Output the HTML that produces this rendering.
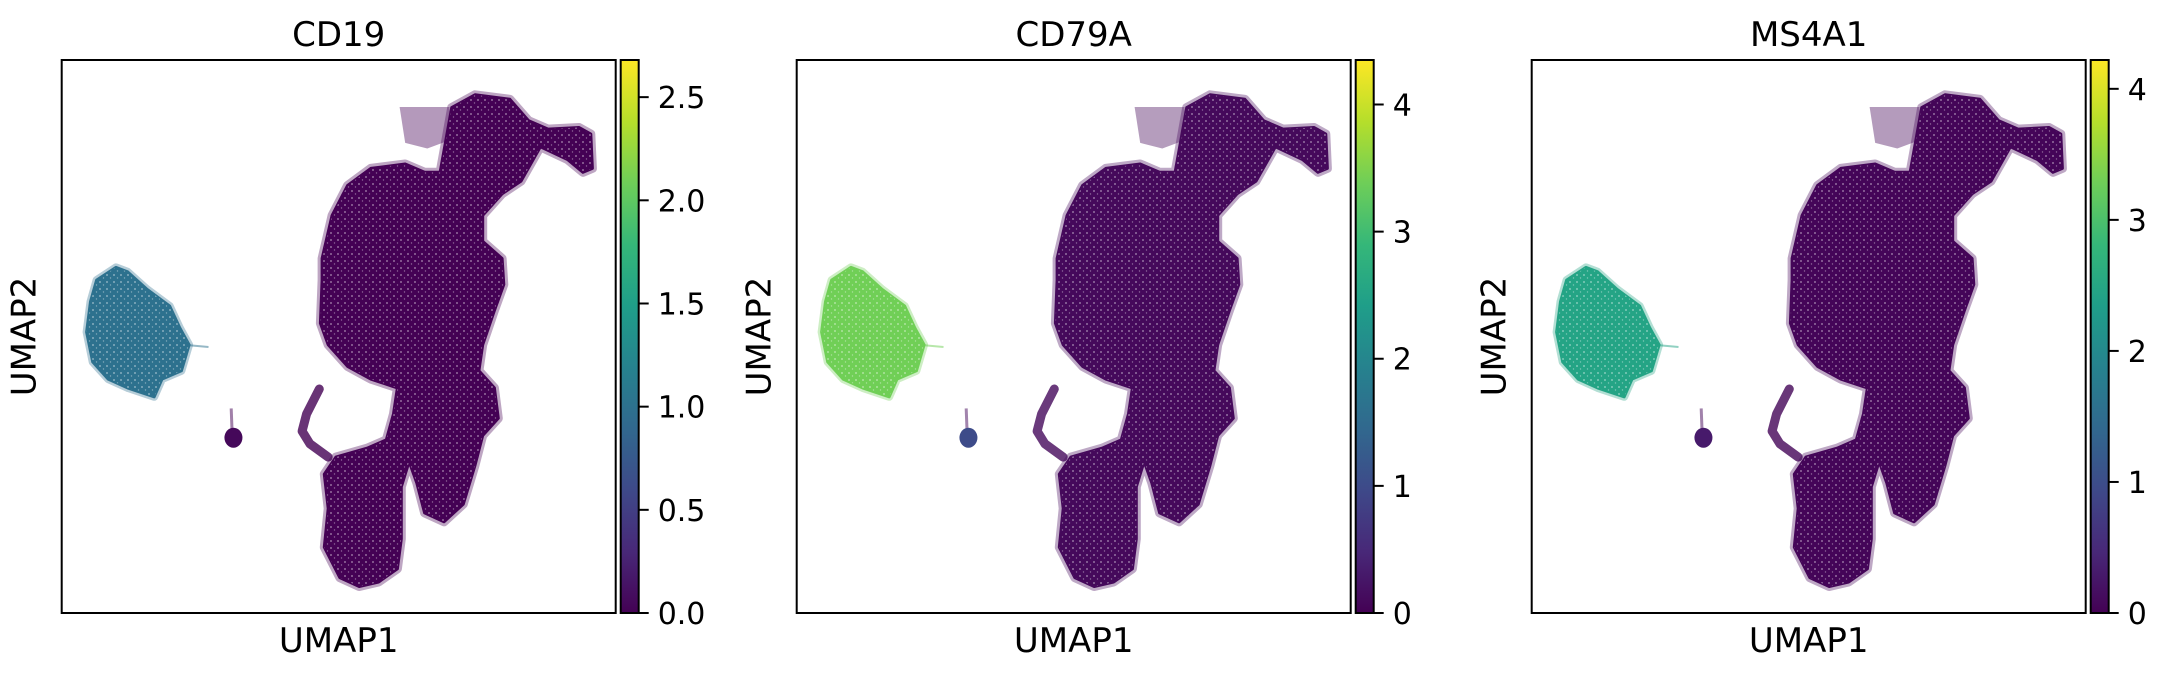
<!DOCTYPE html>
<html><head><meta charset="utf-8"><style>
html,body{margin:0;padding:0;background:#fff;}
svg{display:block;font-family:"DejaVu Sans","Liberation Sans",sans-serif;}
</style></head><body>
<svg id="chart" width="2167" height="676" viewBox="0 0 2167 676" xmlns="http://www.w3.org/2000/svg">
<defs>
<linearGradient id="viridis" x1="0" y1="1" x2="0" y2="0">
<stop offset="0" stop-color="#440154"/><stop offset="0.111" stop-color="#482878"/><stop offset="0.222" stop-color="#3e4989"/><stop offset="0.333" stop-color="#31688e"/><stop offset="0.444" stop-color="#26828e"/><stop offset="0.555" stop-color="#1f9e89"/><stop offset="0.666" stop-color="#35b779"/><stop offset="0.777" stop-color="#6ece58"/><stop offset="0.888" stop-color="#b5de2b"/><stop offset="1" stop-color="#fde725"/>
</linearGradient>
<pattern id="speckle" width="7" height="7" patternUnits="userSpaceOnUse">
<circle cx="2" cy="2" r="0.9" fill="#fff" opacity="0.55"/><circle cx="5.5" cy="5" r="0.7" fill="#fff" opacity="0.4"/>
</pattern>
</defs>
</svg>
<script>
// Genes shown and their colorbar maxima / ticks
const genes = ["CD19", "CD79A", "MS4A1"];
const colorMax = [2.68, 4.35, 4.22];
const ticksCD19 = [0, 0.5, 1.0, 1.5, 2.0, 2.5];
const tickLabelsCD19 = ["0.0", "0.5", "1.0", "1.5", "2.0", "2.5"];
const ticksInt = [0, 1, 2, 3, 4];
const tickLabelsInt = ["0", "1", "2", "3", "4"];
// Cluster outlines in UMAP units (0-100 range on both axes)
const mainCluster = [[47.0,64.1],[48.8,71.9],[51.6,77.3],[55.8,80.4],[62.0,81.2],[65.5,79.7],[68.3,79.7],[69.0,83.6],[70.4,91.4],[74.6,93.7],[80.9,92.9],[84.3,89.0],[87.8,87.5],[93.4,87.8],[95.5,86.6],[95.8,80.4],[94.1,79.7],[91.3,82.0],[86.4,84.3],[82.9,78.1],[79.5,75.8],[76.0,71.9],[76.0,67.2],[79.5,64.1],[79.8,59.4],[78.1,54.7],[76.0,48.5],[75.3,43.8],[78.1,40.7],[78.8,35.2],[76.0,32.1],[74.6,26.7],[72.5,19.7],[69.0,16.5],[65.5,18.1],[64.1,23.5],[62.7,27.4],[61.3,22.8],[61.3,13.4],[60.6,8.0],[57.2,5.6],[53.7,4.8],[50.2,6.4],[47.4,11.9],[48.1,18.9],[47.4,25.1],[49.5,28.2],[55.1,29.8],[58.6,31.3],[59.9,36.0],[60.6,40.7],[55.8,42.3],[51.6,44.6],[48.1,48.5],[46.7,52.4],[47.0,60.2]];
const topLeftSparse = [[61,91.5],[70,91.5],[70,85.5],[66,84],[62,85]];
const hookCluster = [[46.5,40.5],[44.2,36.0],[43.4,32.9],[44.8,30.6],[48.1,28.2]];
const bCluster = [[6.3,60.2],[9.8,62.5],[11.9,61.7],[15.3,58.6],[19.5,55.5],[21.3,51.6],[23.0,48.5],[21.6,43.8],[18.1,42.3],[16.7,39.1],[11.9,40.7],[8.4,42.3],[5.6,45.4],[4.5,50.8],[5.2,56.3]];
const bTrail = [[22,48.5],[26.5,48.1]];
const tinyCenter = [31.0, 31.7];
const tinyTrail = [[30.8,31.7],[30.6,37.0]];
// Mean expression per cluster per gene
const bExpr = [1.0, 3.4, 2.45];
const tinyExpr = [0.05, 1.0, 0.3];
const mainExpr = [0, 0.1, 0.05];

const vir = ["#440154","#482878","#3e4989","#31688e","#26828e","#1f9e89","#35b779","#6ece58","#b5de2b","#fde725"];
function viridis(t){t=Math.max(0,Math.min(1,t));const p=t*(vir.length-1),i=Math.min(Math.floor(p),vir.length-2),f=p-i;
const a=vir[i],b=vir[i+1];const c=k=>Math.round(parseInt(a.substr(k,2),16)*(1-f)+parseInt(b.substr(k,2),16)*f);
return "rgb("+c(1)+","+c(3)+","+c(5)+")";}

const NS="http://www.w3.org/2000/svg";
const svg=document.getElementById("chart");
function mk(tag,attrs,parent){const e=document.createElementNS(NS,tag);for(const k in attrs)e.setAttribute(k,attrs[k]);(parent||svg).appendChild(e);return e;}

const period=735, boxL0=61.7, boxT=60, boxW=554, boxH=553;
genes.forEach((g,gi)=>{
  const L=boxL0+gi*period;
  const sx=u=>L+u/100*boxW, sy=v=>boxT+boxH-v/100*boxH;
  const grp=mk("g",{});
  
  
  const pts=arr=>arr.map(p=>sx(p[0]).toFixed(1)+","+sy(p[1]).toFixed(1)).join(" ");
  const vmax=colorMax[gi];
  const mainCol=viridis(mainExpr[gi]/vmax);
  const halo=mk("polygon",{points:pts(mainCluster),fill:"none",stroke:mainCol,"stroke-width":9,"stroke-linejoin":"round",opacity:0.35},grp);
  
  
  const m=mk("polygon",{points:pts(mainCluster),fill:mainCol,stroke:mainCol,"stroke-width":3,"stroke-linejoin":"round"},grp);
  
  
  const sp=mk("polygon",{points:pts(mainCluster),fill:"url(#speckle)"},grp);
  
  
  const tl=mk("polygon",{points:pts(topLeftSparse),fill:mainCol,opacity:0.4,"stroke-linejoin":"round"},grp);
  
  
  const hk=mk("polyline",{points:pts(hookCluster),fill:"none",stroke:mainCol,"stroke-width":9,"stroke-linecap":"round","stroke-linejoin":"round",opacity:0.8},grp);
  
  
  const tinyCol=viridis(tinyExpr[gi]/vmax);
  const tt=mk("polyline",{points:pts(tinyTrail),fill:"none",stroke:mainCol,"stroke-width":3,opacity:0.5},grp);
  
  
  const tc=mk("ellipse",{cx:sx(tinyCenter[0]),cy:sy(tinyCenter[1]),rx:9,ry:10,fill:tinyCol},grp);
  
  
  const bCol=viridis(bExpr[gi]/vmax);
  const btr=mk("polyline",{points:pts(bTrail),fill:"none",stroke:bCol,"stroke-width":2,opacity:0.5},grp);
  
  
  const bh=mk("polygon",{points:pts(bCluster),fill:"none",stroke:bCol,"stroke-width":8,"stroke-linejoin":"round",opacity:0.35},grp);
  
  
  const b=mk("polygon",{points:pts(bCluster),fill:bCol,stroke:bCol,"stroke-width":3,"stroke-linejoin":"round"},grp);
  
  
  const bs=mk("polygon",{points:pts(bCluster),fill:"url(#speckle)"},grp);
  
  
  const fr=mk("rect",{x:L,y:boxT,width:boxW,height:boxH,fill:"none",stroke:"#000","stroke-width":2},grp);
  
  
  const t=mk("text",{x:L+boxW/2,y:46,"font-size":34,"text-anchor":"middle",fill:"#000"},grp);t.textContent=g;
  
  
  const xl=mk("text",{x:L+boxW/2,y:652,"font-size":34,"text-anchor":"middle",fill:"#000"},grp);xl.textContent="UMAP1";
  
  
  const yx=L-26, yy=boxT+boxH/2;
  const yl=mk("text",{x:yx,y:yy,"font-size":34,"text-anchor":"middle",transform:"rotate(-90 "+yx+" "+yy+")",fill:"#000"},grp);yl.textContent="UMAP2";
  
  
  const cbL=L+boxW+5, cbW=18;
  const cb=mk("rect",{x:cbL,y:boxT,width:cbW,height:boxH,fill:"url(#viridis)",stroke:"#000","stroke-width":2},grp);
  
  
  const tv=gi===0?ticksCD19:ticksInt, tlab=gi===0?tickLabelsCD19:tickLabelsInt;
  tv.forEach((v,i)=>{
    const y=boxT+boxH-v/vmax*boxH;
    const tk=mk("line",{x1:cbL+cbW,x2:cbL+cbW+10,y1:y,y2:y,stroke:"#000","stroke-width":2},grp);
    
    
    const lb=mk("text",{x:cbL+cbW+19,y:y+11,"font-size":30,fill:"#000"},grp);lb.textContent=tlab[i];
    
    
  });
});
</script>
</body></html>
